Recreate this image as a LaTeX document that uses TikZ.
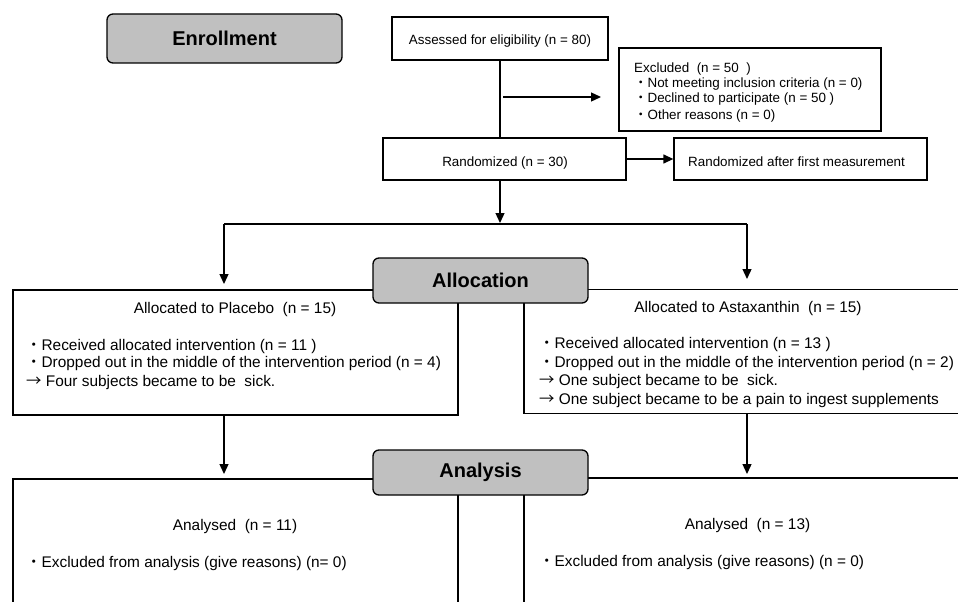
\documentclass[tikz,border=0pt]{standalone}
\usepackage{fontspec}
\setmainfont{Liberation Sans}
\newfontfamily\cjk{Noto Sans CJK JP}
\usetikzlibrary{arrows.meta}
\newcommand{\bul}{{\cjk ・}}
\newcommand{\rarr}{{\cjk →}}
\definecolor{stagegray}{HTML}{C0C0C0}
\begin{document}
\begin{tikzpicture}[x=1pt,y=-1pt,
  box/.style={draw, line width=1.3pt, rectangle, inner sep=0pt, fill=white},
  stage/.style={draw, line width=1.3pt, rounded corners=6pt, fill=stagegray, inner sep=0pt,
    font=\fontsize{20}{22}\selectfont\bfseries},
  txt/.style={font=\fontsize{13.4}{15}\selectfont, inner sep=0pt, anchor=base west},
  ctxt/.style={font=\fontsize{13.4}{15}\selectfont, inner sep=0pt, anchor=base},
  btxt/.style={font=\fontsize{15.4}{17}\selectfont, inner sep=0pt, anchor=base west},
  bctxt/.style={font=\fontsize{15.4}{17}\selectfont, inner sep=0pt, anchor=base},
  conn/.style={line width=1.3pt},
  arrowline/.style={conn, -{Triangle[length=10pt,width=9pt]}}
]
\clip (0,0) rectangle (958,602);
\fill[white] (0,0) rectangle (958,602);

% enrollment
\node[stage, minimum width=235pt, minimum height=49pt] (enroll) at (224.5,38.5) {Enrollment};
\node[box, minimum width=216pt, minimum height=43pt] (assess) at (500,38.5) {};
\node[ctxt] (assesst) at (500,45) {Assessed for eligibility (n = 80)};

\node[box, minimum width=262pt, minimum height=83pt] (excl) at (750,89.5) {};
\node[txt] (ex1) at (634,72) {Excluded\ \ (n = 50\ \ )};
\node[txt] (ex2) at (634,87) {\bul Not meeting inclusion criteria (n = 0)};
\node[txt] (ex3) at (634,102) {\bul Declined to participate (n = 50 )};
\node[txt] (ex4) at (634,119) {\bul Other reasons (n = 0)};

\node[box, minimum width=243pt, minimum height=42pt] (rand) at (504.5,159) {};
\node[ctxt] (randt) at (505,166) {Randomized (n = 30)};
\node[box, minimum width=253pt, minimum height=42pt] (rafm) at (800.5,159) {};
\node[txt] (rafmt) at (688,166) {Randomized after first measurement};

% connectors top
\coordinate (vtop) at (500,60);
\draw[conn] (assess.south -| vtop) -- (rand.north -| vtop);
\coordinate (exs) at (503,97);
\coordinate (exe) at (601,97);
\draw[arrowline] (exs) -- (exe);
\draw[arrowline] (rand.east) -- (rafm.west);
\coordinate (split) at (500,223);
\draw[arrowline] (rand.south -| vtop) -- (split);
\coordinate (sl) at (224,224);
\coordinate (sr) at (747,224);
\coordinate (al) at (224,284);
\coordinate (ar) at (747,279);
\draw[conn] (sl) -- (sr);
\draw[arrowline] (sl) -- (al);
\draw[arrowline] (sr) -- (ar);

% allocation
\node[box, minimum width=445pt, minimum height=125pt] (plac) at (235.5,352.5) {};
\node[box, minimum width=476pt, minimum height=124pt] (asta) at (762,351.5) {};
\node[stage, minimum width=215pt, minimum height=45pt] (alloc) at (480.5,280.5) {Allocation};

\node[bctxt] (p0) at (235,313) {Allocated to Placebo\ \ (n = 15)};
\node[btxt] (p1) at (26,350) {\bul Received allocated intervention (n = 11 )};
\node[btxt] (p2) at (26,367) {\bul Dropped out in the middle of the intervention period (n = 4)};
\node[btxt] (p3) at (26,386) {\rarr\ Four subjects became to be\ \ sick.};

\node[bctxt] (a0) at (748,312) {Allocated to Astaxanthin\ \ (n = 15)};
\node[btxt] (a1) at (539,348) {\bul Received allocated intervention (n = 13 )};
\node[btxt] (a2) at (539,367) {\bul Dropped out in the middle of the intervention period (n = 2)};
\node[btxt] (a3) at (539,385) {\rarr\ One subject became to be\ \ sick.};
\node[btxt] (a4) at (539,404) {\rarr\ One subject became to be a pain to ingest supplements};

% to analysis
\coordinate (pl1) at (224,415);
\coordinate (pl2) at (224,474);
\coordinate (as1) at (747,414);
\coordinate (as2) at (747,474);
\draw[arrowline] (pl1) -- (pl2);
\draw[arrowline] (as1) -- (as2);

% analysis
\node[box, minimum width=445pt, minimum height=171pt] (anl) at (235.5,564.5) {};
\node[box, minimum width=476pt, minimum height=172pt] (anr) at (762,564) {};
\node[stage, minimum width=215pt, minimum height=45pt] (analysis) at (480.5,472.5) {Analysis};

\node[bctxt] (l0) at (235,530) {Analysed\ \ (n = 11)};
\node[btxt] (l1) at (26,567) {\bul Excluded from analysis (give reasons) (n= 0)};
\node[bctxt] (r0) at (747.5,529) {Analysed\ \ (n = 13)};
\node[btxt] (r1) at (539,566) {\bul Excluded from analysis (give reasons) (n = 0)};
\end{tikzpicture}
\end{document}
